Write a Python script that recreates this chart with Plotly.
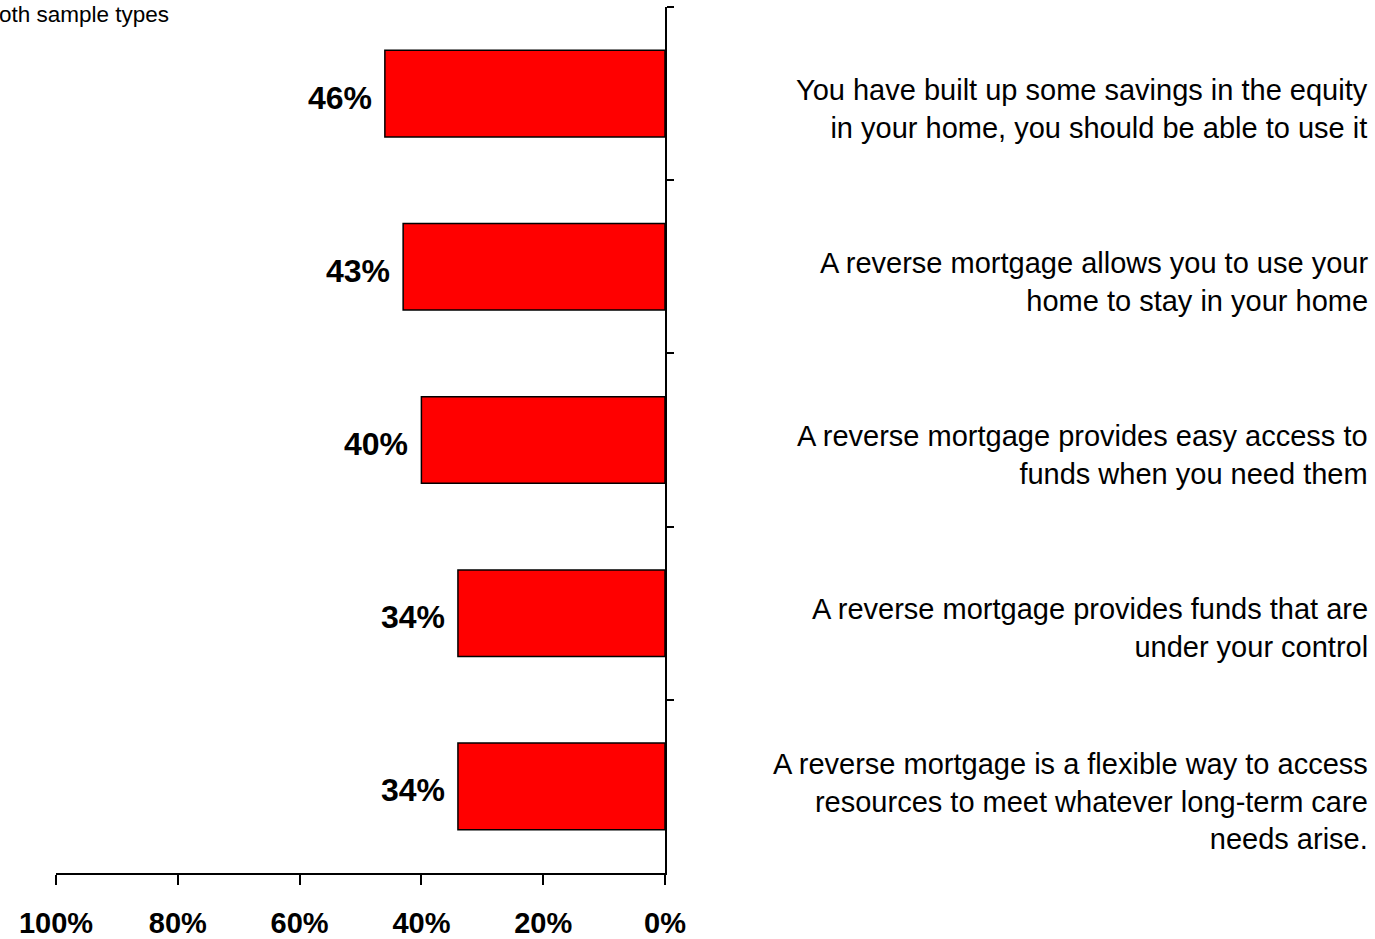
import plotly.graph_objects as go

# Share agreeing with each statement (percent), listed top to bottom
statements = [
    "You have built up some savings in the equity<br>in your home, you should be able to use it",
    "A reverse mortgage allows you to use your<br>home to stay in your home",
    "A reverse mortgage provides easy access to<br>funds when you need them",
    "A reverse mortgage provides funds that are<br>under your control",
    "A reverse mortgage is a flexible way to access<br>resources to meet whatever long-term care<br>needs arise.",
]
agree_pct = [46, 43, 40, 34, 34]
x_ticks = [100, 80, 60, 40, 20, 0]
x_tick_text = ["100%", "80%", "60%", "40%", "20%", "0%"]
subtitle = "Both sample types"

FONT = "Liberation Sans, Arial, sans-serif"

# Plot area in pixels
L, R, T, B = 56, 710, 7, 66
W, H = 1375, 939
pw, ph = W - L - R, H - T - B

fig = go.Figure(
    go.Bar(
        x=agree_pct,
        y=statements,
        orientation="h",
        width=0.5,
        marker=dict(color="#FF0000", line=dict(color="#000000", width=1.5)),
        hoverinfo="skip",
    )
)

# Value labels just beyond the end of each bar
for s, v in zip(statements, agree_pct):
    fig.add_annotation(
        x=v, y=s, xref="x", yref="y", text=f"<b>{v}%</b>",
        showarrow=False, xanchor="right", xshift=-11, yshift=-4,
        font=dict(family=FONT, size=32, color="#000000"),
    )

# Statement text to the right of the axis
for s in statements:
    fig.add_annotation(
        x=(1370 - L) / pw, y=s, xref="paper", yref="y", text=s,
        showarrow=False, xanchor="right", align="right", yshift=-15,
        font=dict(family=FONT, size=29, color="#000000"),
    )

fig.add_annotation(
    xref="paper", yref="paper", x=(171 - L) / pw, y=1 + (T - 14) / ph,
    text=subtitle, showarrow=False, xanchor="right", yanchor="middle",
    font=dict(family=FONT, size=22.5, color="#000000"),
)

fig.update_layout(
    width=W, height=H,
    margin=dict(l=L, r=R, t=T, b=B),
    paper_bgcolor="white", plot_bgcolor="white",
    showlegend=False,
    bargap=0.5,
)
fig.update_xaxes(
    range=[100, 0], tickvals=x_ticks, ticktext=x_tick_text,
    showgrid=False, zeroline=False, automargin=False,
    showline=True, linecolor="#000000", linewidth=2,
    ticks="outside", ticklen=10, tickwidth=2, tickcolor="#000000",
    tickfont=dict(family=FONT, size=29, color="#000000", weight="bold"),
    ticklabelstandoff=13,
)
fig.update_yaxes(
    autorange="reversed", side="right", automargin=False,
    showticklabels=False, showgrid=False, zeroline=False,
    showline=True, linecolor="#000000", linewidth=2,
    ticks="outside", ticklen=7, tickwidth=2, tickcolor="#000000",
    tickson="boundaries",
)

fig.write_html("out.html")
